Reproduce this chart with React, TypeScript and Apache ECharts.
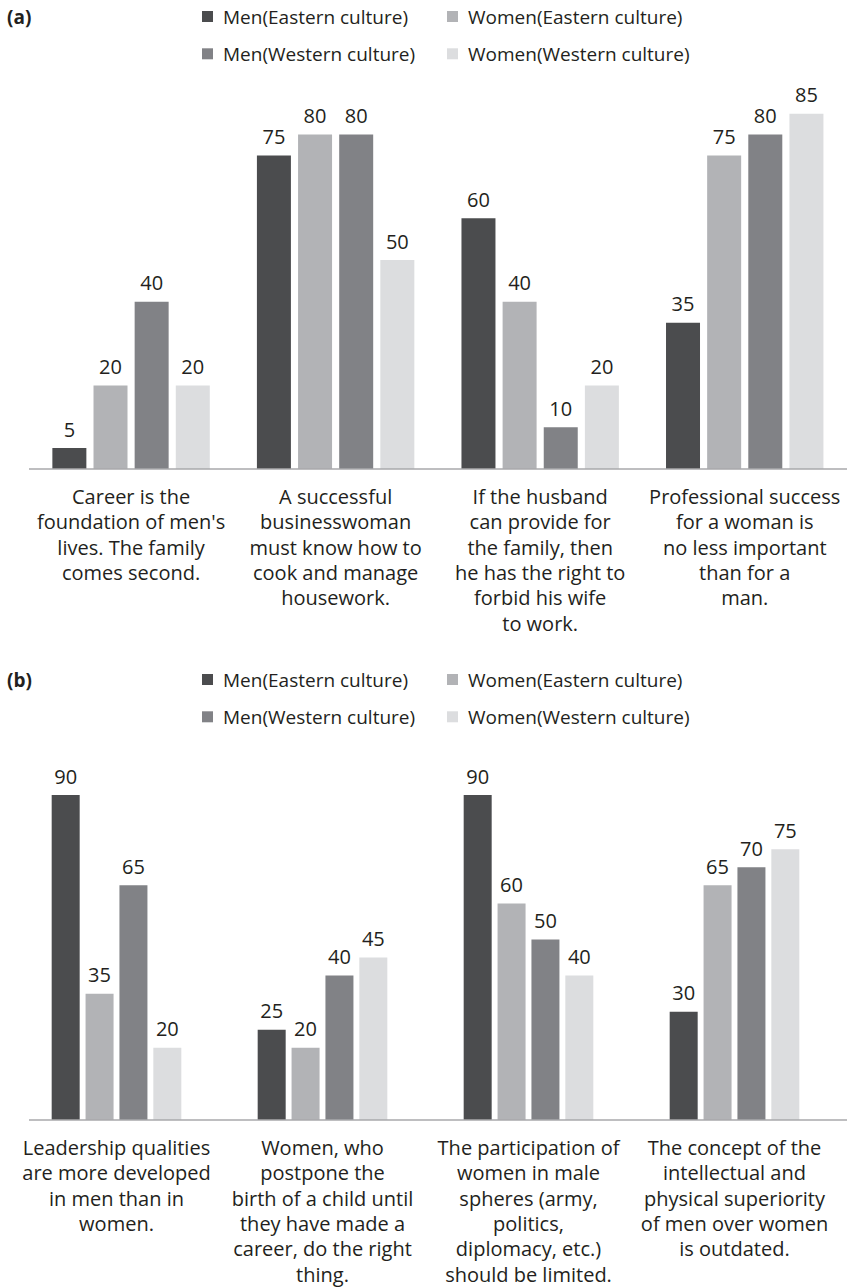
import React, { useEffect, useRef } from "react";
import * as echarts from "echarts";

// Series shared by both panels
const seriesNames = [
  "Men(Eastern culture)",
  "Women(Eastern culture)",
  "Men(Western culture)",
  "Women(Western culture)",
];
const seriesColors = ["#4b4c4e", "#b2b3b6", "#818286", "#dcdddf"];

// Panel (a)
const categoriesA = [
  "Career is the\nfoundation of men's\nlives. The family\ncomes second.",
  "A successful\nbusinesswoman\nmust know how to\ncook and manage\nhousework.",
  "If the husband\ncan provide for\nthe family, then\nhe has the right to\nforbid his wife\nto work.",
  "Professional success\nfor a woman is\nno less important\nthan for a\nman.",
];
const menEasternA = [5, 75, 60, 35];
const womenEasternA = [20, 80, 40, 75];
const menWesternA = [40, 80, 10, 80];
const womenWesternA = [20, 50, 20, 85];

// Panel (b)
const categoriesB = [
  "Leadership qualities\nare more developed\nin men than in\nwomen.",
  "Women, who\npostpone the\nbirth of a child until\nthey have made a\ncareer, do the right\nthing.",
  "The participation of\nwomen in male\nspheres (army,\npolitics,\ndiplomacy, etc.)\nshould be limited.",
  "The concept of the\nintellectual and\nphysical superiority\nof men over women\nis outdated.",
];
const menEasternB = [90, 25, 90, 30];
const womenEasternB = [35, 20, 60, 65];
const menWesternB = [65, 40, 50, 70];
const womenWesternB = [20, 45, 40, 75];

const FONT = "'Open Sans', 'Noto Sans', sans-serif";
const TEXT_COLOR = "#231f20";

const panels = [
  {
    title: "(a)",
    categories: categoriesA,
    values: [menEasternA, womenEasternA, menWesternA, womenWesternA],
    grid: { left: 28.8, width: 820.8, top: 51, height: 418 },
    barWidth: 34,
    legendTop: 7,
  },
  {
    title: "(b)",
    categories: categoriesB,
    values: [menEasternB, womenEasternB, menWesternB, womenWesternB],
    grid: { left: 13.5, width: 824, top: 759, height: 361 },
    barWidth: 28,
    legendTop: 670,
  },
];

export default function App() {
  const ref = useRef<HTMLDivElement>(null);

  useEffect(() => {
    if (!ref.current) return;
    const chart = echarts.init(ref.current, undefined, { renderer: "svg" });

    const legendCols = [202, 447];
    const legendRowGap = 37.3;

    const option: any = {
      animation: false,
      backgroundColor: "#ffffff",
      title: panels.map((p) => ({
        text: p.title,
        left: 7,
        top: p.legendTop,
        padding: 0,
        textStyle: { fontFamily: FONT, fontSize: 19, fontWeight: "bold", color: TEXT_COLOR },
      })),
      legend: panels.flatMap((p) =>
        seriesNames.map((name, i) => ({
          data: [name],
          left: legendCols[i % 2],
          top: p.legendTop + Math.floor(i / 2) * legendRowGap,
          padding: 0,
          icon: "rect",
          itemWidth: 11,
          itemHeight: 11,
          selectedMode: false,
          textStyle: {
            fontFamily: FONT,
            fontSize: 19,
            color: TEXT_COLOR,
            padding: [0, 0, 0, 5],
          },
        }))
      ),
      grid: panels.map((p) => ({ ...p.grid, containLabel: false })),
      xAxis: panels.map((p, gi) => ({
        type: "category",
        gridIndex: gi,
        data: p.categories,
        axisLine: { show: false },
        axisTick: { show: false },
        axisLabel: {
          interval: 0,
          margin: 15,
          fontFamily: FONT,
          fontSize: 20,
          lineHeight: 25.3,
          color: TEXT_COLOR,
          align: "center",
        },
      })),
      yAxis: panels.map((_, gi) => ({
        type: "value",
        gridIndex: gi,
        min: 0,
        max: 100,
        show: false,
        splitLine: { show: false },
      })),
      series: panels.flatMap((p, gi) =>
        seriesNames.map((name, i) => ({
          name,
          type: "bar",
          xAxisIndex: gi,
          yAxisIndex: gi,
          data: p.values[i],
          barWidth: p.barWidth,
          barGap: "21%",
          itemStyle: { color: seriesColors[i] },
          label: {
            show: true,
            position: "top",
            distance: 9,
            fontFamily: FONT,
            fontSize: 20,
            color: TEXT_COLOR,
          },
        }))
      ),
      graphic: panels.map((p) => {
        const baseY = p.grid.top + p.grid.height;
        return {
          type: "line",
          shape: { x1: 29, y1: baseY, x2: 847, y2: baseY },
          style: { stroke: "#a9a9ab", lineWidth: 1.6 },
          z: 10,
        };
      }),
    };

    chart.setOption(option);
    return () => chart.dispose();
  }, []);

  return (
    <div
      ref={ref}
      style={{ position: "absolute", left: 0, top: 0, width: 847, height: 1287 }}
    />
  );
}
